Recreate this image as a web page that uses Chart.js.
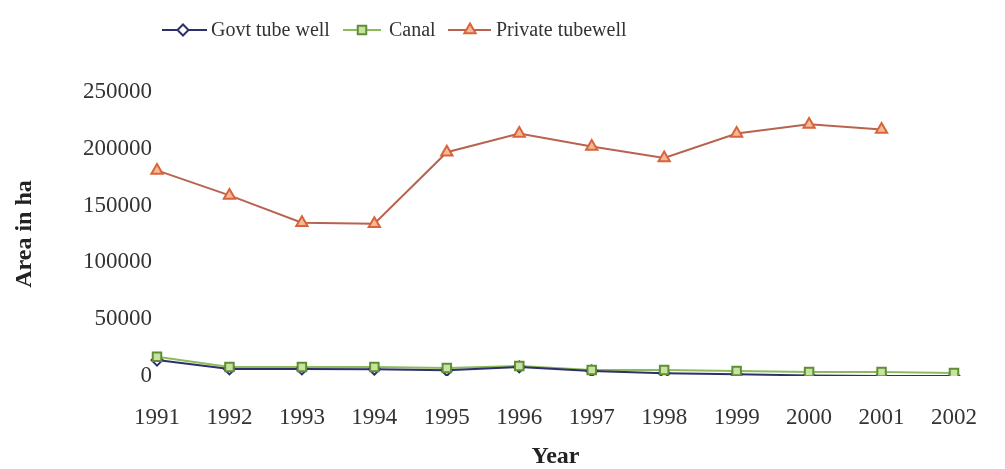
<!DOCTYPE html>
<html>
<head>
<meta charset="utf-8">
<script src="https://cdn.jsdelivr.net/npm/chart.js@4/dist/chart.umd.min.js"></script>
<style>
  html, body { margin: 0; padding: 0; background: #ffffff; }
  #wrap { width: 1005px; height: 469px; position: relative; }
</style>
</head>
<body>
<div id="wrap"><canvas id="chart" width="1005" height="469"></canvas></div>
<script>
// Irrigated area by source, hectares
const years = ['1991', '1992', '1993', '1994', '1995', '1996', '1997', '1998', '1999', '2000', '2001', '2002'];
const govtTubeWell = [14000, 6200, 6200, 6000, 5000, 8000, 4500, 2500, 1500, 500, 0, 0];
const canal = [17000, 7900, 7900, 7900, 7000, 8800, 5300, 5300, 4400, 3500, 3500, 2600];
const privateTubewell = [181000, 159000, 135000, 134000, 197000, 213500, 202000, 192000, 213500, 221500, 217000, null];
const yTickValues = [0, 50000, 100000, 150000, 200000, 250000];

const seriesNames = ['Govt tube well', 'Canal', 'Private tubewell'];
const seriesData = [govtTubeWell, canal, privateTubewell];

const seriesStyle = [
  { line: '#2e2f6b', border: '#2e2f6b', fill: '#ffffff', point: 'rectRot', radius: 5.5 },
  { line: '#8cbc5a', border: '#5f8f35', fill: '#c9e2a2', point: 'rect', radius: 6 },
  { line: '#b8634f', border: '#d9643a', fill: '#f4b99a', point: 'triangle', radius: 6.5 }
];

const serif = '"Liberation Serif", "Times New Roman", serif';

// Lines first (Govt line above Canal line), markers afterwards on top of all lines
const lineSets = seriesData.map((d, i) => ({
  label: seriesNames[i],
  data: d,
  borderColor: seriesStyle[i].line,
  borderWidth: 2,
  pointRadius: 0,
  tension: 0,
  spanGaps: false,
  order: 10 + i
}));
const markerOrder = [2, 1, 0];
const markerSets = seriesData.map((d, i) => ({
  label: seriesNames[i] + ' markers',
  data: d,
  showLine: false,
  pointStyle: seriesStyle[i].point,
  pointRadius: seriesStyle[i].radius,
  pointBorderWidth: 2,
  pointBorderColor: seriesStyle[i].border,
  pointBackgroundColor: seriesStyle[i].fill,
  order: markerOrder[i]
}));

// Legend drawn as line + marker + label, like the series themselves
const lineLegend = {
  id: 'lineLegend',
  afterDraw(chart) {
    const ctx = chart.ctx;
    const cy = 30;
    const items = [
      { x0: 162, x1: 207, mx: 183, tx: 211 },
      { x0: 343, x1: 381, mx: 362, tx: 389 },
      { x0: 448, x1: 491, mx: 470, tx: 496 }
    ];
    ctx.save();
    items.forEach((it, i) => {
      const s = seriesStyle[i];
      ctx.strokeStyle = s.line;
      ctx.lineWidth = 2;
      ctx.beginPath();
      ctx.moveTo(it.x0, cy);
      ctx.lineTo(it.x1, cy);
      ctx.stroke();
      ctx.fillStyle = s.fill;
      ctx.strokeStyle = s.border;
      ctx.lineWidth = 2;
      Chart.helpers.drawPoint(ctx, { pointStyle: s.point, radius: s.radius, rotation: 0, borderWidth: 2 }, it.mx, cy);
      ctx.fillStyle = '#333333';
      ctx.font = '20px ' + serif;
      ctx.textAlign = 'left';
      ctx.textBaseline = 'middle';
      ctx.fillText(seriesNames[i], it.tx, cy + 1);
    });
    ctx.restore();
  }
};

new Chart(document.getElementById('chart'), {
  type: 'line',
  data: { labels: years, datasets: lineSets.concat(markerSets) },
  options: {
    responsive: false,
    animation: false,
    layout: { padding: { top: 92, right: 35, bottom: 0, left: 0 } },
    plugins: { legend: { display: false }, tooltip: { enabled: false } },
    scales: {
      x: {
        offset: false,
        grid: { display: false, drawTicks: false },
        border: { display: false },
        ticks: { color: '#333333', padding: 28, maxRotation: 0, autoSkip: false,
                 font: { family: serif, size: 23, lineHeight: 1.2 } },
        title: { display: true, text: 'Year', color: '#222222', padding: { top: 0, bottom: 0 },
                 font: { family: serif, size: 24, weight: 'bold', lineHeight: 1 } },
        afterFit(scale) { scale.height = 93; }
      },
      y: {
        min: 0,
        max: 250000,
        grid: { display: false, drawTicks: false },
        border: { display: false },
        afterBuildTicks(scale) { scale.ticks = yTickValues.map(v => ({ value: v })); },
        ticks: { color: '#333333', padding: 5, callback: v => String(v),
                 font: { family: serif, size: 23, lineHeight: 1.2 } },
        title: { display: true, text: 'Area in ha', color: '#222222', padding: { top: 13, bottom: 0 },
                 font: { family: serif, size: 24, weight: 'bold', lineHeight: 1 } },
        afterFit(scale) { scale.width = 157; }
      }
    }
  },
  plugins: [lineLegend]
});
</script>
</body>
</html>
